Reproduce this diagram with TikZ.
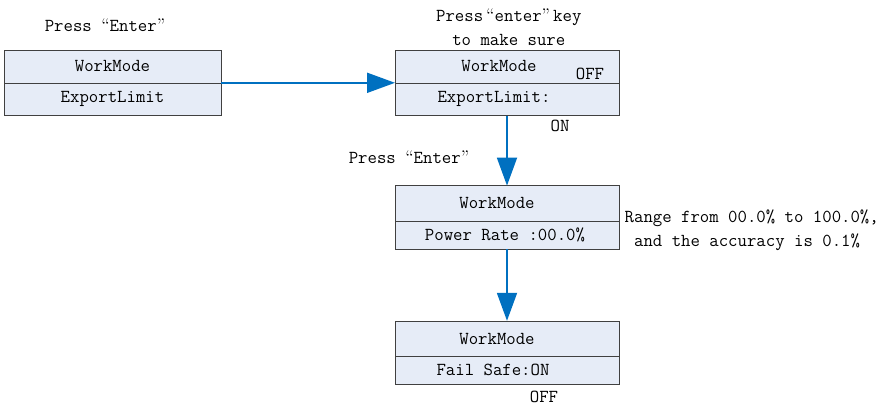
\documentclass[tikz,border=0pt]{standalone}
\usepackage{fontspec}
\usetikzlibrary{arrows.meta, positioning}
\definecolor{panelfill}{RGB}{230,236,247}
\definecolor{flowblue}{RGB}{0,112,192}
\newcommand{\openq}{{\rmfamily “}}
\newcommand{\closeq}{{\rmfamily ”}}

\begin{document}
\begin{tikzpicture}[
        font = \ttfamily\fontsize{13}{17}\selectfont,
        >= {Triangle[length = 0.7cm, width = 0.5cm]},
        every node/.style = {inner sep = 1pt},
        panel/.style = {draw = black!75, fill = panelfill, minimum width = 5.6cm, outer sep = 0pt},
        panel top/.style = {panel, minimum height = 0.89cm},
        panel row/.style = {panel, minimum height = 0.69cm},
        flow/.style = {color = flowblue, line width = 1.3pt, ->}
    ]
      \useasboundingbox (0, 0) rectangle (22.125, -10.175);

      % screens
      \node[panel, minimum width = 5.425cm, minimum height = 0.82cm] (mode1) at (2.8125, -1.66) {WorkMode};
      \node[panel, minimum width = 5.425cm, minimum height = 0.82cm] (limit1) [below = 0pt of mode1] {ExportLimit};
      \node[panel, minimum height = 0.82cm] (mode2) [right = 4.35cm of mode1] {WorkMode\hspace*{0.4cm}};
      \node[panel, minimum height = 0.82cm] (limit2) [below = 0pt of mode2] {ExportLimit:\hspace*{0.65cm}};
      \node[panel top] (mode3) [below = 1.75cm of limit2] {WorkMode\hspace*{0.5cm}};
      \node[panel row] (rate3) [below = 0pt of mode3] {Power Rate :00.0\%\hspace*{0.1cm}};
      \node[panel top] (mode4) [below = 1.8cm of rate3] {WorkMode\hspace*{0.5cm}};
      \node[panel row] (safe4) [below = 0pt of mode4] {Fail Safe:ON\hspace*{0.7cm}};

      % notes
      \node (press1) at (2.625, -0.625) {Press \openq Enter\closeq};
      \node[align = center] (confirm) at (12.72, -0.675) {Press\,\openq enter\closeq\,key\\ to make sure};
      \node (off2) at (14.75, -1.85) {OFF};
      \node (on2) at (14.0, -3.15) {ON};
      \node (press2) at (10.225, -3.925) {Press \openq Enter\closeq};
      \node[anchor = west, align = left] (range) at (15.575, -5.7625) {Range from 00.0\% to 100.0\%,\\\phantom{x}and the accuracy is 0.1\%};
      \node (off4) at (13.6, -9.925) {OFF};

      \draw[flow] (mode1.south east) -- (mode2.south west);
      \draw[flow] (limit2) -- (mode3);
      \draw[flow] (rate3) -- (mode4);
    \end{tikzpicture}
\end{document}
